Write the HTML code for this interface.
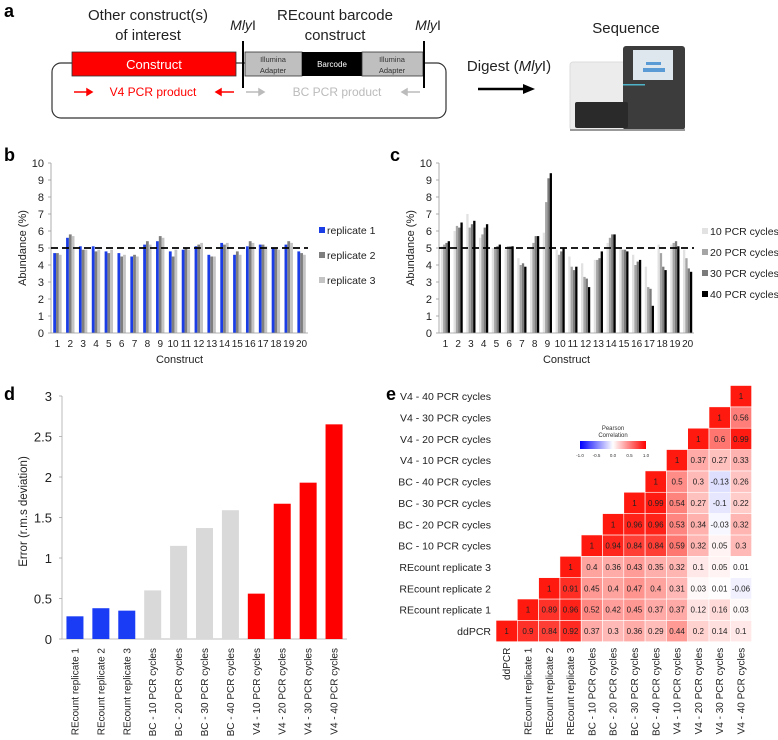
<!DOCTYPE html>
<html><head><meta charset="utf-8"><style>
html,body{margin:0;padding:0;background:#fff;}
svg{display:block;font-family:"Liberation Sans",sans-serif;}
</style></head><body>
<svg id="fig" width="778" height="740" viewBox="0 0 778 740" xmlns="http://www.w3.org/2000/svg">
<text x="4" y="17" font-size="18" font-weight="bold">a</text>
<text x="4" y="161" font-size="18" font-weight="bold">b</text>
<text x="390" y="161" font-size="18" font-weight="bold">c</text>
<text x="4" y="400" font-size="18" font-weight="bold">d</text>
<text x="386" y="400" font-size="18" font-weight="bold">e</text>

<g>
<text x="148" y="20" font-size="15" text-anchor="middle" fill="#222">Other construct(s)</text>
<text x="148" y="40" font-size="15" text-anchor="middle" fill="#222">of interest</text>
<text x="335" y="20" font-size="15" text-anchor="middle" fill="#222">REcount barcode</text>
<text x="335" y="40" font-size="15" text-anchor="middle" fill="#222">construct</text>
<text x="243" y="30" font-size="14" text-anchor="middle" fill="#222"><tspan font-style="italic">Mly</tspan>I</text>
<text x="428" y="30" font-size="14" text-anchor="middle" fill="#222"><tspan font-style="italic">Mly</tspan>I</text>
<rect x="52" y="63" width="394" height="55" rx="9" fill="none" stroke="#333" stroke-width="1.2"/>
<rect x="72" y="52" width="164" height="24" fill="#ff0000" stroke="#333" stroke-width="0.8"/>
<text x="154" y="69" font-size="13" text-anchor="middle" fill="#fff">Construct</text>
<rect x="245" y="52" width="57" height="24" fill="#bfbfbf" stroke="#333" stroke-width="0.8"/>
<rect x="302" y="52" width="60" height="24" fill="#000"/>
<rect x="362" y="52" width="61" height="24" fill="#bfbfbf" stroke="#333" stroke-width="0.8"/>
<text x="273" y="62" font-size="7.5" text-anchor="middle" fill="#333">Illumina</text>
<text x="273" y="73" font-size="7.5" text-anchor="middle" fill="#333">Adapter</text>
<text x="332" y="67" font-size="8" text-anchor="middle" fill="#fff">Barcode</text>
<text x="392" y="62" font-size="7.5" text-anchor="middle" fill="#333">Illumina</text>
<text x="392" y="73" font-size="7.5" text-anchor="middle" fill="#333">Adapter</text>
<line x1="243" y1="41" x2="243" y2="88" stroke="#000" stroke-width="2"/>
<line x1="424" y1="41" x2="424" y2="88" stroke="#000" stroke-width="2"/>
<g stroke="#ff0000" stroke-width="1.5" fill="#ff0000">
<line x1="74" y1="92" x2="88" y2="92"/><polygon points="87,89 92,92 87,95"/>
<line x1="220" y1="92" x2="234" y2="92"/><polygon points="221,89 216,92 221,95"/>
</g>
<text x="153" y="96" font-size="12" text-anchor="middle" fill="#ff0000">V4 PCR product</text>
<g stroke="#bbb" stroke-width="1.5" fill="#bbb">
<line x1="246" y1="92" x2="260" y2="92"/><polygon points="259,89 264,92 259,95"/>
<line x1="406" y1="92" x2="420" y2="92"/><polygon points="407,89 402,92 407,95"/>
</g>
<text x="337" y="96" font-size="12" text-anchor="middle" fill="#bbb">BC PCR product</text>
<text x="509" y="71" font-size="15" text-anchor="middle" fill="#222">Digest (<tspan font-style="italic">Mly</tspan>I)</text>
<line x1="478" y1="89" x2="525" y2="89" stroke="#000" stroke-width="2.5"/>
<polygon points="523,84 535,89 523,94" fill="#000"/>
<text x="626" y="33" font-size="15" text-anchor="middle" fill="#222">Sequence</text>
<g>
<rect x="570" y="62" width="56" height="68" rx="3" fill="#ececec" stroke="#ddd"/>
<rect x="623" y="46" width="62" height="84" rx="3" fill="#3c3c3c"/>
<rect x="633" y="50" width="40" height="30" fill="#dfe7ee"/>
<rect x="646" y="62" width="15" height="3" fill="#5a9bd5"/>
<rect x="643" y="68" width="22" height="4" fill="#5a9bd5"/>
<rect x="623" y="84" width="22" height="1.5" fill="#4fb3c8"/>
<rect x="575" y="102" width="53" height="26" rx="2" fill="#2a2a2a"/>
<rect x="570" y="129" width="115" height="2" fill="#999"/>
</g>
</g>

<g id="panelB"></g>
<g id="panelC"></g>
<g id="panelD"></g>
<g id="panelE"></g>
</svg>
<script>
const constructs = ["1","2","3","4","5","6","7","8","9","10","11","12","13","14","15","16","17","18","19","20"];
const bRep1 = [4.7,5.6,5.1,5.1,4.8,4.7,4.5,5.2,5.4,4.8,4.9,5.1,4.6,5.3,4.6,5.1,5.2,5.0,5.2,4.8];
const bRep2 = [4.7,5.8,4.9,4.8,4.7,4.5,4.6,5.4,5.7,4.5,5.0,5.2,4.5,5.2,4.8,5.4,5.2,5.0,5.4,4.7];
const bRep3 = [4.6,5.7,4.9,4.9,4.9,4.6,4.5,5.2,5.6,4.9,4.9,5.3,4.5,5.3,4.6,5.3,5.1,4.9,5.3,4.6];
const bSeriesNames = ["replicate 1","replicate 2","replicate 3"];
const c10 = [5.1,6.0,7.0,5.6,5.0,4.9,4.4,5.0,5.9,4.9,4.5,4.1,4.3,5.3,5.0,4.6,3.9,5.2,5.2,4.9];
const c20 = [5.2,6.3,6.2,5.8,5.0,5.1,4.0,5.3,7.7,4.6,3.9,3.3,4.3,5.6,4.9,4.0,2.7,4.7,5.3,4.4];
const c30 = [5.3,6.2,6.4,6.2,5.1,5.1,4.1,5.7,9.1,4.8,3.7,3.2,4.4,5.8,4.9,4.2,2.6,3.9,5.4,3.8];
const c40 = [5.4,6.5,6.6,6.4,5.2,5.1,3.9,5.7,9.4,5.0,3.9,2.7,4.8,5.8,4.8,4.3,1.6,3.7,5.1,3.6];
const cSeriesNames = ["10 PCR cycles","20 PCR cycles","30 PCR cycles","40 PCR cycles"];
const abundTicks = [0,1,2,3,4,5,6,7,8,9,10];
const expected = 5;
const dCategories = ["REcount replicate 1","REcount replicate 2","REcount replicate 3","BC - 10 PCR cycles","BC - 20 PCR cycles","BC - 30 PCR cycles","BC - 40 PCR cycles","V4 - 10 PCR cycles","V4 - 20 PCR cycles","V4 - 30 PCR cycles","V4 - 40 PCR cycles"];
const dValues = [0.28,0.38,0.35,0.60,1.15,1.37,1.59,0.56,1.67,1.93,2.65];
const dGroups = ["rc","rc","rc","bc","bc","bc","bc","v4","v4","v4","v4"];
const dTicks = [0,0.5,1,1.5,2,2.5,3];
const eLabels = ["ddPCR","REcount replicate 1","REcount replicate 2","REcount replicate 3","BC - 10 PCR cycles","BC - 20 PCR cycles","BC - 30 PCR cycles","BC - 40 PCR cycles","V4 - 10 PCR cycles","V4 - 20 PCR cycles","V4 - 30 PCR cycles","V4 - 40 PCR cycles"];
const eRow0 = [1,0.9,0.84,0.92,0.37,0.3,0.36,0.29,0.44,0.2,0.14,0.1];
const eRow1 = [1,0.89,0.96,0.52,0.42,0.45,0.37,0.37,0.12,0.16,0.03];
const eRow2 = [1,0.91,0.45,0.4,0.47,0.4,0.31,0.03,0.01,-0.06];
const eRow3 = [1,0.4,0.36,0.43,0.35,0.32,0.1,0.05,0.01];
const eRow4 = [1,0.94,0.84,0.84,0.59,0.32,0.05,0.3];
const eRow5 = [1,0.96,0.96,0.53,0.34,-0.03,0.32];
const eRow6 = [1,0.99,0.54,0.27,-0.1,0.22];
const eRow7 = [1,0.5,0.3,-0.13,0.26];
const eRow8 = [1,0.37,0.27,0.33];
const eRow9 = [1,0.6,0.99];
const eRow10 = [1,0.56];
const eRow11 = [1];
const eRows = [eRow0,eRow1,eRow2,eRow3,eRow4,eRow5,eRow6,eRow7,eRow8,eRow9,eRow10,eRow11];
const legendTicks = ["-1.0","-0.5","0.0","0.5","1.0"];

const NS = "http://www.w3.org/2000/svg";
function mk(parent, tag, attrs, txt){
  const el = document.createElementNS(NS, tag);
  for (const k in attrs) el.setAttribute(k, attrs[k]);
  if (txt !== undefined) el.textContent = txt;
  parent.appendChild(el);
  return el;
}

function groupedChart(g, x0, x1, yBase, yTop, series, colors, names, legX, legY0, legDy, barW, prefix){
  const ymax = 10;
  const y = v => yBase - (v/ymax)*(yBase-yTop);
  const band = (x1-x0)/constructs.length;
  const xc = i => x0 + band*(i+0.5);
  abundTicks.forEach(t=>{
    const lab = mk(g,"text",{x:x0-7,y:y(t)+4,"font-size":11,"text-anchor":"end",fill:"#222"},String(t));
    
    
    mk(g,"line",{x1:x0-3,x2:x0,y1:y(t),y2:y(t),stroke:"#999","stroke-width":0.8});
  });
  const n = series.length;
  series.forEach((vals,s)=>{
    vals.forEach((v,i)=>{
      const bx = xc(i) - n*barW/2 + s*barW;
      const r = mk(g,"rect",{x:bx,y:y(v),width:barW,height:yBase-y(v),fill:colors[s]});
      
      
    });
  });
  constructs.forEach((c,i)=>{
    const t = mk(g,"text",{x:xc(i),y:yBase+14,"font-size":10,"text-anchor":"middle",fill:"#222"},c);
    
    
  });
  mk(g,"line",{x1:x0,x2:x0,y1:yTop,y2:yBase,stroke:"#999","stroke-width":0.8});
  mk(g,"line",{x1:x0,x2:x1,y1:yBase,y2:yBase,stroke:"#999","stroke-width":0.8});
  const dl = mk(g,"line",{x1:x0,x2:x1,y1:y(expected),y2:y(expected),stroke:"#000","stroke-width":1.8,"stroke-dasharray":"7,4"});
  
  
  const xt = mk(g,"text",{x:(x0+x1)/2,y:yBase+30,"font-size":11,"text-anchor":"middle",fill:"#222"},"Construct");
  
  
  const yt = mk(g,"text",{x:0,y:0,"font-size":11,"text-anchor":"middle",fill:"#222",transform:`translate(${x0-25},${(yBase+yTop)/2}) rotate(-90)`},"Abundance (%)");
  
  
  names.forEach((nm,s)=>{
    const ly = legY0 + s*legDy;
    const le = mk(g,"g",{});
    
    
    mk(le,"rect",{x:legX,y:ly-7,width:6,height:6,fill:colors[s]});
    mk(le,"text",{x:legX+8,y:ly,"font-size":10.5,fill:"#222"},nm);
  });
}
groupedChart(document.getElementById("panelB"),51,308,333,163,[bRep1,bRep2,bRep3],["#1a3de6","#7f7f7f","#c4c4c4"],bSeriesNames,319,234,25,2.8,"panel-b");
groupedChart(document.getElementById("panelC"),439,694,333,163,[c10,c20,c30,c40],["#e2e2e2","#a5a5a5","#7b7b7b","#000000"],cSeriesNames,702,235,21,2.3,"panel-c");

(function(){
  const g = document.getElementById("panelD");
  const x0=62, x1=347, yBase=639, yTop=396, ymax=3;
  const y = v => yBase - (v/ymax)*(yBase-yTop);
  const band = (x1-x0)/dCategories.length;
  const xc = i => x0 + band*(i+0.5);
  const col = {rc:"#1a3cf5",bc:"#d9d9d9",v4:"#ff0000"};
  dTicks.forEach(t=>{
    const lab = mk(g,"text",{x:x0-10,y:y(t)+5,"font-size":13,"text-anchor":"end",fill:"#222"},String(t));
    
    
    mk(g,"line",{x1:x0-3,x2:x0,y1:y(t),y2:y(t),stroke:"#aaa","stroke-width":0.8});
  });
  mk(g,"line",{x1:x0,x2:x0,y1:yTop,y2:yBase,stroke:"#aaa","stroke-width":0.8});
  mk(g,"line",{x1:x0,x2:x1,y1:yBase,y2:yBase,stroke:"#aaa","stroke-width":0.8});
  dValues.forEach((v,i)=>{
    const r = mk(g,"rect",{x:xc(i)-8.5,y:y(v),width:17,height:yBase-y(v),fill:col[dGroups[i]]});
    
    
  });
  dCategories.forEach((c,i)=>{
    const t = mk(g,"text",{x:0,y:0,"font-size":10,"text-anchor":"end",fill:"#222",transform:`translate(${xc(i)+3.5},${yBase+9}) rotate(-90)`},c);
    
    
  });
  const yt = mk(g,"text",{x:0,y:0,"font-size":11.5,"text-anchor":"middle",fill:"#222",transform:`translate(27,${(yBase+yTop)/2-6}) rotate(-90)`},"Error (r.m.s deviation)");
  
  
})();

(function(){
  const g = document.getElementById("panelE");
  const cx0 = 496, cw = 21.3, rowBottom = 641.7, rh = 21.35;
  const cellX = j => cx0 + j*cw;
  const cellY = i => rowBottom - (i+1)*rh;
  function color(v){
    if (v >= 0){
      return `rgb(255,${Math.round(255-(255-25)*v)},${Math.round(255-(255-15)*v)})`;
    } else {
      const a = -v;
      return `rgb(${Math.round(255-255*a)},${Math.round(255-255*a)},255)`;
    }
  }
  eRows.forEach((row,i)=>{
    row.forEach((v,k)=>{
      const j = i + k;
      const r = mk(g,"rect",{x:cellX(j),y:cellY(i),width:cw,height:rh,fill:color(v),stroke:"#fff","stroke-width":0.6});
      
      
      const t = mk(g,"text",{x:cellX(j)+cw/2,y:cellY(i)+rh/2+3,"font-size":8,"text-anchor":"middle",fill:"#222"},String(v));
      
      
    });
  });
  eLabels.forEach((lab,i)=>{
    const t = mk(g,"text",{x:491,y:cellY(i)+rh/2+4,"font-size":10.5,"text-anchor":"end",fill:"#222"},lab);
    
    
    const c = mk(g,"text",{x:0,y:0,"font-size":10,"text-anchor":"end",fill:"#222",transform:`translate(${cellX(i)+cw/2+3.5},${rowBottom+6}) rotate(-90)`},lab);
    
    
  });
  const defs = mk(g,"defs",{});
  const lg = mk(defs,"linearGradient",{id:"pc",x1:"0",x2:"1",y1:"0",y2:"0"});
  mk(lg,"stop",{offset:"0",  "stop-color":"#0000ff"});
  mk(lg,"stop",{offset:"0.5","stop-color":"#ffffff"});
  mk(lg,"stop",{offset:"1",  "stop-color":"#ff0000"});
  const leg = mk(g,"g",{});
  
  
  mk(leg,"text",{x:613,y:430,"font-size":6,"text-anchor":"middle",fill:"#333"},"Pearson");
  mk(leg,"text",{x:613,y:437,"font-size":6,"text-anchor":"middle",fill:"#333"},"Correlation");
  mk(leg,"rect",{x:580,y:441,width:66,height:8,fill:"url(#pc)"});
  legendTicks.forEach((t,k)=>{
    mk(leg,"text",{x:580+k*16.5,y:457,"font-size":4.5,"text-anchor":"middle",fill:"#333"},t);
  });
})();
</script>
</body></html>
